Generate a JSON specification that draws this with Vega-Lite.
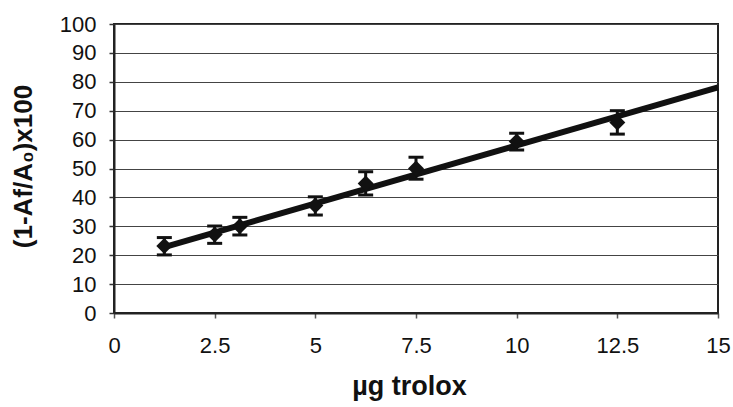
{
  "$schema": "https://vega.github.io/schema/vega-lite/v6.json",
  "width": 604,
  "height": 289,
  "autosize": {"type": "none"},
  "padding": {"left": 114, "top": 24, "right": 15, "bottom": 94},
  "background": "white",
  "config": {
    "view": {"stroke": "#222222", "strokeWidth": 2},
    "font": "Liberation Sans",
    "axisX": {
      "labelOverlap": false,
      "labelFlush": false,
      "grid": false,
      "domainColor": "#222222", "domainWidth": 2,
      "tickColor": "#555555", "tickSize": 5, "tickWidth": 1.5,
      "labelFont": "Liberation Sans", "labelFontSize": 22, "labelColor": "#111111",
      "labelPadding": 17,
      "titleFont": "Liberation Sans", "titleFontSize": 27, "titleFontWeight": "bold",
      "titleColor": "#111111", "titleBaseline": "alphabetic", "titleY": 81, "titleX": 295
    },
    "axisY": {
      "labelOverlap": false,
      "labelFlush": false,
      "grid": true, "gridColor": "#444444", "gridWidth": 1,
      "domainColor": "#222222", "domainWidth": 2,
      "tickColor": "#333333", "tickSize": 5, "tickWidth": 1.5,
      "labelFont": "Liberation Sans", "labelFontSize": 22, "labelColor": "#111111",
      "labelPadding": 13,
      "titleFont": "Liberation Sans", "titleFontSize": 26, "titleFontWeight": "bold",
      "titleColor": "#111111", "titleBaseline": "middle", "titleX": -91, "titleY": 142
    }
  },
  "datasets": {
    "points": [
      {"ug": 1.25, "pct": 23.2, "lo": 20.1, "hi": 26.1},
      {"ug": 2.5, "pct": 27.2, "lo": 24.1, "hi": 30.1},
      {"ug": 3.125, "pct": 30.0, "lo": 27.0, "hi": 33.1},
      {"ug": 5, "pct": 37.2, "lo": 33.9, "hi": 40.2},
      {"ug": 6.25, "pct": 44.8, "lo": 40.8, "hi": 48.9},
      {"ug": 7.5, "pct": 50.0, "lo": 46.3, "hi": 53.9},
      {"ug": 10, "pct": 59.3, "lo": 56.4, "hi": 62.2},
      {"ug": 12.5, "pct": 65.9, "lo": 61.9, "hi": 70.0}
    ],
    "fit": [
      {"ug": 1.25, "pct": 22.8},
      {"ug": 15, "pct": 78.1}
    ]
  },
  "layer": [
    {
      "data": {"name": "points"},
      "mark": {"type": "rule", "color": "#111111", "strokeWidth": 3},
      "encoding": {
        "x": {
          "field": "ug", "type": "quantitative",
          "scale": {"domain": [0, 15], "nice": false, "zero": false},
          "axis": {"title": "µg trolox", "values": [0, 2.5, 5, 7.5, 10, 12.5, 15], "format": ".3~f"}
        },
        "y": {
          "field": "lo", "type": "quantitative",
          "scale": {"domain": [0, 100], "nice": false},
          "axis": {"title": "(1-Af/A₀)x100", "values": [0, 10, 20, 30, 40, 50, 60, 70, 80, 90, 100], "format": "d"}
        },
        "y2": {"field": "hi"}
      }
    },
    {
      "data": {"name": "points"},
      "mark": {"type": "tick", "orient": "horizontal", "color": "#111111", "opacity": 1, "size": 15, "thickness": 3},
      "encoding": {
        "x": {"field": "ug", "type": "quantitative",
          "axis": {"title": "µg trolox", "values": [0, 2.5, 5, 7.5, 10, 12.5, 15], "format": ".3~f"}},
        "y": {"field": "lo", "type": "quantitative",
          "axis": {"title": "(1-Af/A₀)x100", "values": [0, 10, 20, 30, 40, 50, 60, 70, 80, 90, 100], "format": "d"}}
      }
    },
    {
      "data": {"name": "points"},
      "mark": {"type": "tick", "orient": "horizontal", "color": "#111111", "opacity": 1, "size": 15, "thickness": 3},
      "encoding": {
        "x": {"field": "ug", "type": "quantitative",
          "axis": {"title": "µg trolox", "values": [0, 2.5, 5, 7.5, 10, 12.5, 15], "format": ".3~f"}},
        "y": {"field": "hi", "type": "quantitative",
          "axis": {"title": "(1-Af/A₀)x100", "values": [0, 10, 20, 30, 40, 50, 60, 70, 80, 90, 100], "format": "d"}}
      }
    },
    {
      "data": {"name": "fit"},
      "mark": {"type": "line", "color": "#111111", "strokeWidth": 6, "strokeCap": "butt"},
      "encoding": {
        "x": {"field": "ug", "type": "quantitative",
          "axis": {"title": "µg trolox", "values": [0, 2.5, 5, 7.5, 10, 12.5, 15], "format": ".3~f"}},
        "y": {"field": "pct", "type": "quantitative",
          "axis": {"title": "(1-Af/A₀)x100", "values": [0, 10, 20, 30, 40, 50, 60, 70, 80, 90, 100], "format": "d"}}
      }
    },
    {
      "data": {"name": "points"},
      "mark": {"type": "point", "shape": "diamond", "filled": true, "color": "#111111", "opacity": 1, "size": 256},
      "encoding": {
        "x": {"field": "ug", "type": "quantitative",
          "axis": {"title": "µg trolox", "values": [0, 2.5, 5, 7.5, 10, 12.5, 15], "format": ".3~f"}},
        "y": {"field": "pct", "type": "quantitative",
          "axis": {"title": "(1-Af/A₀)x100", "values": [0, 10, 20, 30, 40, 50, 60, 70, 80, 90, 100], "format": "d"}}
      }
    }
  ]
}
